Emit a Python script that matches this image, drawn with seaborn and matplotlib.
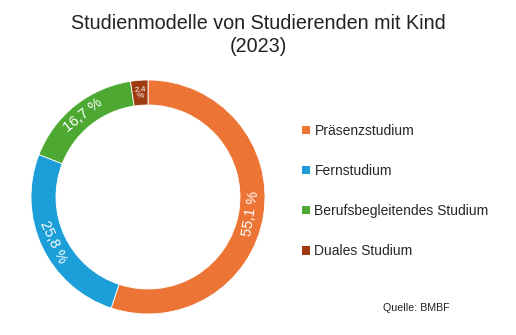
import numpy as np
import matplotlib
matplotlib.use("Agg")
import matplotlib.pyplot as plt
from matplotlib.patches import Patch
import seaborn as sns

categories = ["Präsenzstudium", "Fernstudium", "Berufsbegleitendes Studium", "Duales Studium"]
values = [55.1, 25.8, 16.7, 2.4]
labels = ["55,1 %", "25,8 %", "16,7 %", "2,4\n%"]
colors = ["#EC7536", "#1C9FD9", "#4DA932", "#9E3B12"]

sns.set_theme(style="white")
plt.rcParams['font.family'] = ['Liberation Sans', 'DejaVu Sans']

fig = plt.figure(figsize=(5.16, 3.35), dpi=100)
ax = fig.add_axes([31/516, 21/335, 234/516, 234/335])

width = 25/117
wedges, _ = ax.pie(values, colors=colors, startangle=90, counterclock=False,
                   wedgeprops=dict(width=width, edgecolor="white", linewidth=0.6))
ax.set_xlim(-1, 1)
ax.set_ylim(-1, 1)
ax.set_aspect("equal")
ax.axis("off")

r = 1 - width / 2
for w, lab, v in zip(wedges, labels, values):
    ang = (w.theta1 + w.theta2) / 2
    rad = np.deg2rad(ang)
    rot = ang - 90
    while rot > 90:
        rot -= 180
    while rot < -90:
        rot += 180
    fs = 6 if v < 5 else 10.5
    ax.text(r * np.cos(rad), r * np.sin(rad), lab, ha="center", va="center",
            rotation=rot, rotation_mode="anchor", color="white", fontsize=fs,
            linespacing=1.0)

fig.text(0.5, 1 - 35/335, "Studienmodelle von Studierenden mit Kind\n(2023)", ha="center",
         va="center", fontsize=14.2, color="#222222", linespacing=1.3)

handles = [Patch(facecolor=c, edgecolor="none") for c in colors]
fig.legend(handles, categories, loc="upper left", bbox_to_anchor=(302/516, 1 - 124/335),
           frameon=False, fontsize=10, handlelength=0.55, handleheight=0.55,
           handletextpad=0.35, labelspacing=1.88, borderaxespad=0, borderpad=0)

fig.text(383/516, 1 - 308/335, "Quelle: BMBF", fontsize=7.7, va="center", ha="left", color="#222222")

fig.savefig("out.png", dpi=100, facecolor="white")
